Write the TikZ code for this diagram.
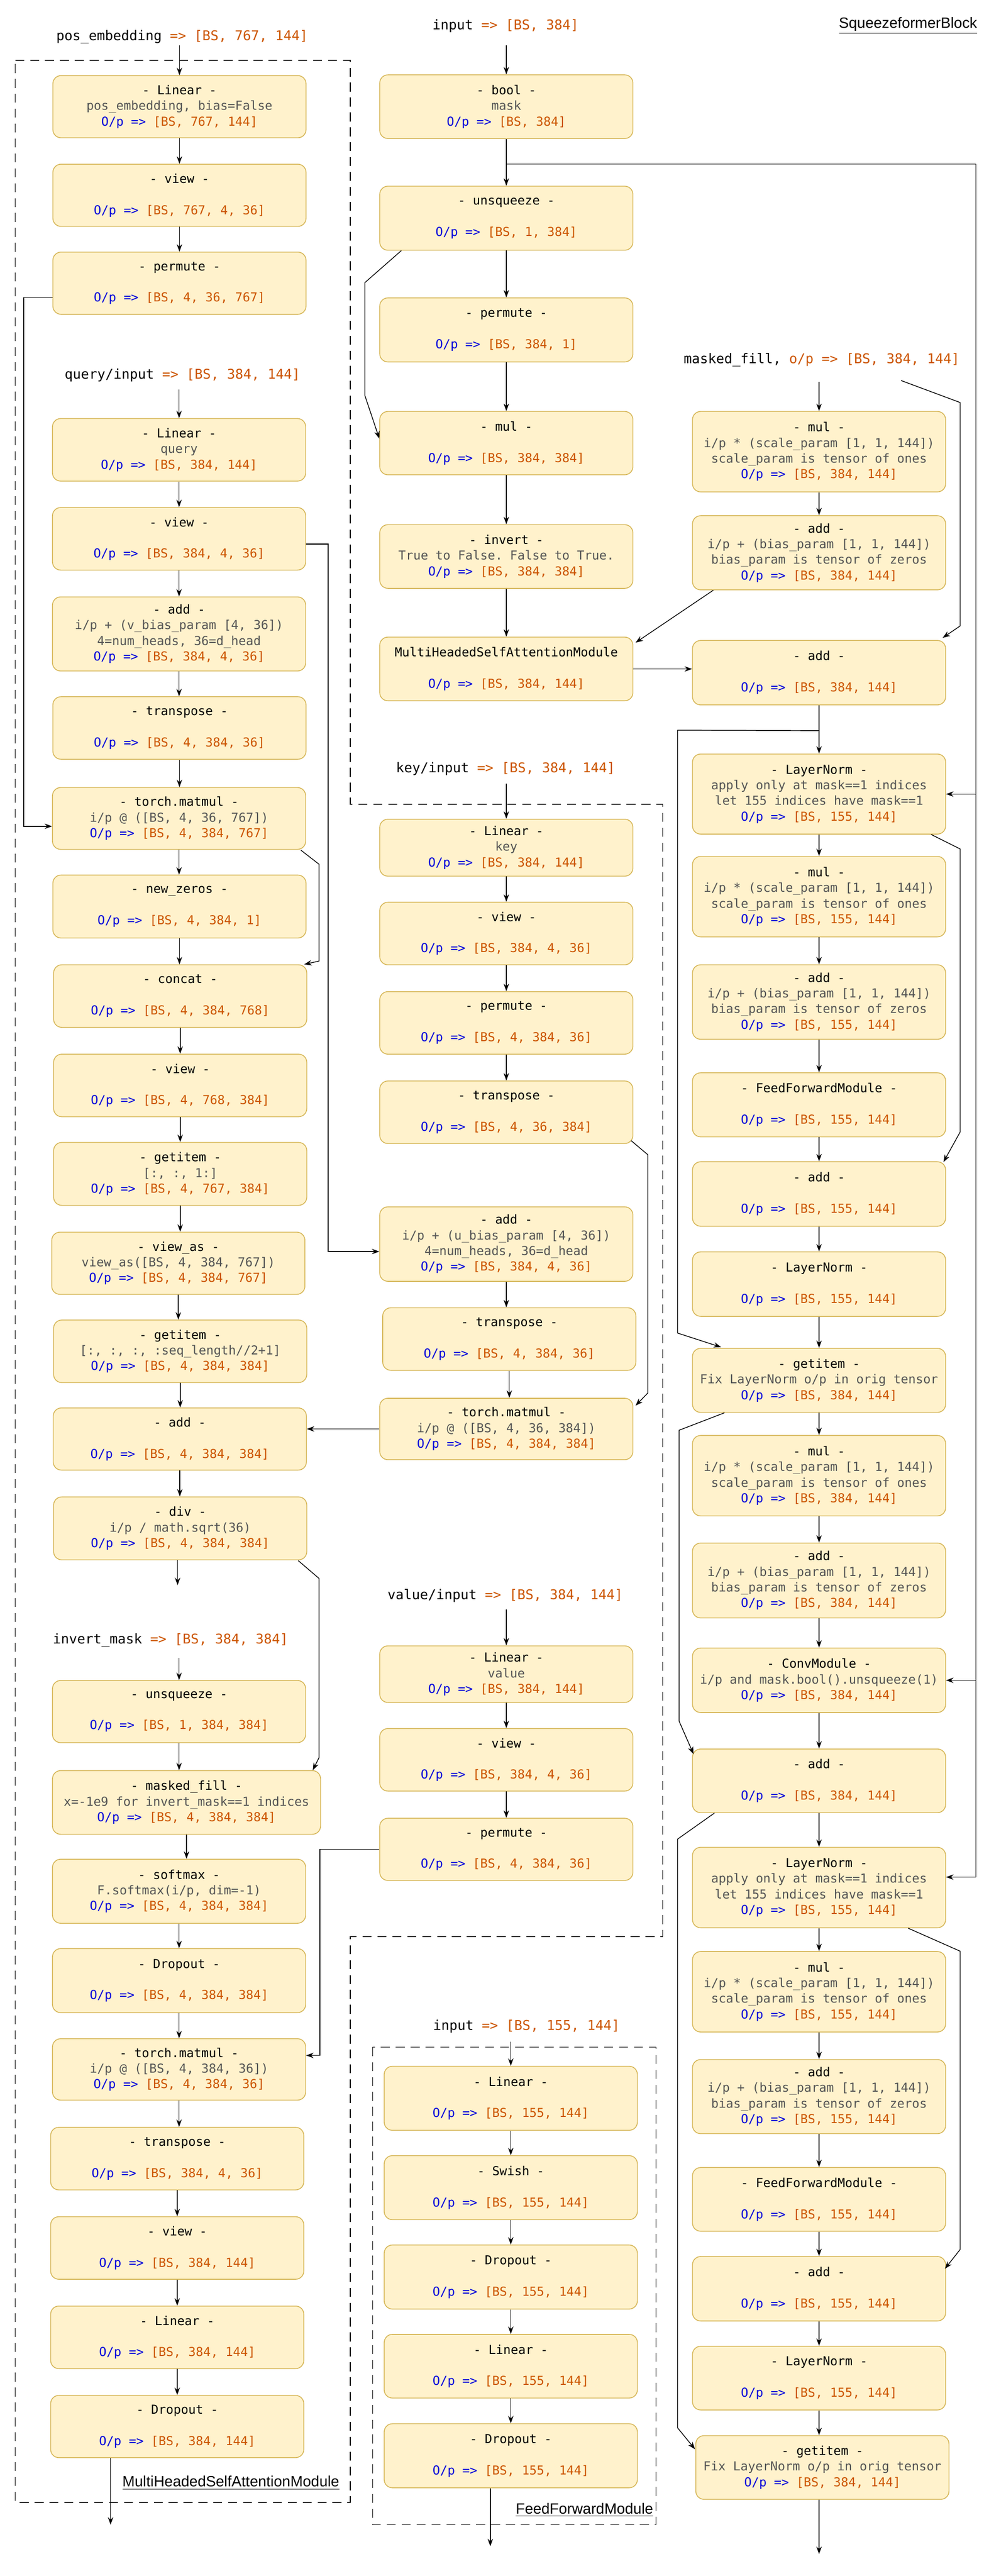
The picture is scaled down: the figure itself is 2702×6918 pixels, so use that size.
\documentclass[tikz,border=0pt]{standalone}
\usepackage{fontspec}
\setmainfont{Liberation Sans}
\setmonofont{DejaVu Sans Mono}
\usetikzlibrary{arrows.meta,calc}
\definecolor{boxfill}{RGB}{255,242,204}
\definecolor{boxline}{RGB}{214,182,86}
\definecolor{shp}{RGB}{204,85,0}
\definecolor{opblue}{RGB}{0,0,220}
\definecolor{descgray}{RGB}{85,85,85}
\newcommand{\opl}[1]{{\color{opblue}O/p =>} {\color{shp}#1}}
\newcommand{\dsc}[1]{{\color{descgray}#1}}
\newcommand{\lbl}[2]{#1 {\color{shp}=> #2}}
\newcommand{\bxfont}{\fontsize{8.3pt}{10.5pt}\selectfont\ttfamily}
\newcommand{\lbfont}{\fontsize{9.05pt}{11pt}\selectfont\ttfamily}
\newcommand{\mulT}[1]{- mul -\\\dsc{i/p * (scale\_param [1, 1, 144])}\\\dsc{scale\_param is tensor of ones}\\\opl{[BS, #1, 144]}}
\newcommand{\addT}[1]{- add -\\\dsc{i/p + (bias\_param [1, 1, 144])}\\\dsc{bias\_param is tensor of zeros}\\\opl{[BS, #1, 144]}}
\newcommand{\mkbox}[6][680]{\node[box,minimum width={#1*0.25pt},minimum height={(#5-#4)*0.25pt}] (#2) at (#3,{(#4+#5)/2}) {#6};}
\tikzset{
  box/.style={draw=boxline, fill=boxfill, rounded corners=5.5pt, line width=0.55pt, inner sep=0pt, align=center, font=\bxfont},
  lab/.style={font=\lbfont, inner sep=1pt},
  ttl/.style={font=\fontsize{10pt}{12pt}\selectfont, inner sep=0pt},
  arr/.style={-{Stealth[length=5pt,width=3.6pt]}, line width=0.5pt},
  dashbox/.style={dash pattern=on 6pt off 4pt, line width=0.5pt}
}
\begin{document}
\begin{tikzpicture}[x=0.25pt,y=-0.25pt]
\fill[white] (0,0) rectangle (2702,6918);
\useasboundingbox (0,0) rectangle (2702,6918);

% dashed module outlines
\draw[dashbox] (41,162) -- (941,162) -- (941,2160) -- (1780,2160) -- (1780,5201) -- (941,5201) -- (941,6720) -- (41,6720) -- cycle;
\draw[dashbox] (1001,5498) rectangle (1762,6780);

% titles
\node[ttl] (tsq) at (2439,69) {\underline{SqueezeformerBlock}};
\node[ttl] (tmh) at (620,6668) {\underline{MultiHeadedSelfAttentionModule}};
\node[ttl] (tff) at (1570,6741) {\underline{FeedForwardModule}};

% labels
\node[lab] (lpos) at (489,99) {\lbl{pos\_embedding}{[BS, 767, 144]}};
\node[lab] (lq) at (490,1007) {\lbl{query/input}{[BS, 384, 144]}};
\node[lab] (linv) at (458,4405) {\lbl{invert\_mask}{[BS, 384, 384]}};
\node[lab] (lin) at (1358,69) {\lbl{input}{[BS, 384]}};
\node[lab] (lkey) at (1358,2065) {\lbl{key/input}{[BS, 384, 144]}};
\node[lab] (lval) at (1357,4285) {\lbl{value/input}{[BS, 384, 144]}};
\node[lab] (lffn) at (1414,5442) {\lbl{input}{[BS, 155, 144]}};
\node[lab] (lmf) at (2207,967) {masked\_fill, {\color{shp}o/p => [BS, 384, 144]}};

% left column
\mkbox{b1}{482}{203}{370}{- Linear -\\\dsc{pos\_embedding, bias=False}\\\opl{[BS, 767, 144]}}
\mkbox{b2}{482}{441}{608}{- view -\\~\\\opl{[BS, 767, 4, 36]}}
\mkbox{b3}{482}{677}{844}{- permute -\\~\\\opl{[BS, 4, 36, 767]}}
\mkbox{b4}{481}{1124}{1292}{- Linear -\\\dsc{query}\\\opl{[BS, 384, 144]}}
\mkbox{b5}{481}{1363}{1531}{- view -\\~\\\opl{[BS, 384, 4, 36]}}
\mkbox{b6}{481}{1603}{1802}{- add -\\\dsc{i/p + (v\_bias\_param [4, 36])}\\\dsc{4=num\_heads, 36=d\_head}\\\opl{[BS, 384, 4, 36]}}
\mkbox{b7}{482}{1871}{2039}{- transpose -\\~\\\opl{[BS, 4, 384, 36]}}
\mkbox{b8}{481}{2115}{2281}{- torch.matmul -\\\dsc{i/p @ ([BS, 4, 36, 767])}\\\opl{[BS, 4, 384, 767]}}
\mkbox{b9}{482}{2350}{2519}{- new\_zeros -\\~\\\opl{[BS, 4, 384, 1]}}
\mkbox{b10}{484}{2591}{2759}{- concat -\\~\\\opl{[BS, 4, 384, 768]}}
\mkbox{b11}{484}{2831}{2999}{- view -\\~\\\opl{[BS, 4, 768, 384]}}
\mkbox{b12}{484}{3068}{3237}{- getitem -\\\dsc{[:, :, 1:]}\\\opl{[BS, 4, 767, 384]}}
\mkbox{b13}{479}{3309}{3476}{- view\_as -\\\dsc{view\_as([BS, 4, 384, 767])}\\\opl{[BS, 4, 384, 767]}}
\mkbox{b14}{484}{3545}{3713}{- getitem -\\\dsc{[:, :, :, :seq\_length//2+1]}\\\opl{[BS, 4, 384, 384]}}
\mkbox{b15}{483}{3781}{3948}{- add -\\~\\\opl{[BS, 4, 384, 384]}}
\mkbox{b16}{484}{4020}{4189}{- div -\\\dsc{i/p / math.sqrt(36)}\\\opl{[BS, 4, 384, 384]}}
\mkbox{b17}{481}{4513}{4680}{- unsqueeze -\\~\\\opl{[BS, 1, 384, 384]}}
\mkbox[720]{b18}{501}{4755}{4926}{- masked\_fill -\\\dsc{x=-1e9 for invert\_mask==1 indices}\\\opl{[BS, 4, 384, 384]}}
\mkbox{b19}{481}{4993}{5165}{- softmax -\\\dsc{F.softmax(i/p, dim=-1)}\\\opl{[BS, 4, 384, 384]}}
\mkbox{b20}{481}{5233}{5405}{- Dropout -\\~\\\opl{[BS, 4, 384, 384]}}
\mkbox{b21}{481}{5475}{5640}{- torch.matmul -\\\dsc{i/p @ ([BS, 4, 384, 36])}\\\opl{[BS, 4, 384, 36]}}
\mkbox{b22}{476}{5713}{5881}{- transpose -\\~\\\opl{[BS, 384, 4, 36]}}
\mkbox{b23}{476}{5953}{6121}{- view -\\~\\\opl{[BS, 384, 144]}}
\mkbox{b24}{476}{6193}{6361}{- Linear -\\~\\\opl{[BS, 384, 144]}}
\mkbox{b25}{476}{6433}{6600}{- Dropout -\\~\\\opl{[BS, 384, 144]}}

% middle column
\mkbox{mA}{1360}{201}{372}{- bool -\\\dsc{mask}\\\opl{[BS, 384]}}
\mkbox{mB}{1360}{500}{672}{- unsqueeze -\\~\\\opl{[BS, 1, 384]}}
\mkbox{mC}{1360}{800}{972}{- permute -\\~\\\opl{[BS, 384, 1]}}
\mkbox{mD}{1360}{1105}{1275}{- mul -\\~\\\opl{[BS, 384, 384]}}
\mkbox{mE}{1360}{1409}{1580}{- invert -\\\dsc{True to False. False to True.}\\\opl{[BS, 384, 384]}}
\mkbox{mF}{1360}{1711}{1882}{MultiHeadedSelfAttentionModule\\~\\\opl{[BS, 384, 144]}}
\mkbox{mG}{1360}{2200}{2353}{- Linear -\\\dsc{key}\\\opl{[BS, 384, 144]}}
\mkbox{mH}{1360}{2423}{2591}{- view -\\~\\\opl{[BS, 384, 4, 36]}}
\mkbox{mI}{1360}{2663}{2831}{- permute -\\~\\\opl{[BS, 4, 384, 36]}}
\mkbox{mJ}{1360}{2903}{3071}{- transpose -\\~\\\opl{[BS, 4, 36, 384]}}
\mkbox{mK}{1360}{3241}{3441}{- add -\\\dsc{i/p + (u\_bias\_param [4, 36])}\\\dsc{4=num\_heads, 36=d\_head}\\\opl{[BS, 384, 4, 36]}}
\mkbox{mL}{1368}{3512}{3680}{- transpose -\\~\\\opl{[BS, 4, 384, 36]}}
\mkbox{mM}{1360}{3755}{3920}{- torch.matmul -\\\dsc{i/p @ ([BS, 4, 36, 384])}\\\opl{[BS, 4, 384, 384]}}
\mkbox{mN}{1360}{4420}{4572}{- Linear -\\\dsc{value}\\\opl{[BS, 384, 144]}}
\mkbox{mO}{1360}{4642}{4810}{- view -\\~\\\opl{[BS, 384, 4, 36]}}
\mkbox{mP}{1360}{4883}{5050}{- permute -\\~\\\opl{[BS, 4, 384, 36]}}

% feed forward module
\mkbox{fQ}{1372}{5549}{5721}{- Linear -\\~\\\opl{[BS, 155, 144]}}
\mkbox{fR}{1372}{5789}{5961}{- Swish -\\~\\\opl{[BS, 155, 144]}}
\mkbox{fS}{1372}{6029}{6201}{- Dropout -\\~\\\opl{[BS, 155, 144]}}
\mkbox{fT}{1372}{6269}{6440}{- Linear -\\~\\\opl{[BS, 155, 144]}}
\mkbox{fU}{1372}{6509}{6681}{- Dropout -\\~\\\opl{[BS, 155, 144]}}

% right column
\mkbox{R1}{2200}{1105}{1321}{\mulT{384}}
\mkbox{R2}{2200}{1385}{1584}{\addT{384}}
\mkbox{R3}{2200}{1720}{1893}{- add -\\~\\\opl{[BS, 384, 144]}}
\mkbox{R4}{2200}{2025}{2240}{- LayerNorm -\\\dsc{apply only at mask==1 indices}\\\dsc{let 155 indices have mask==1}\\\opl{[BS, 155, 144]}}
\mkbox{R5}{2200}{2300}{2516}{\mulT{155}}
\mkbox{R6}{2200}{2591}{2791}{\addT{155}}
\mkbox{R7}{2200}{2881}{3053}{- FeedForwardModule -\\~\\\opl{[BS, 155, 144]}}
\mkbox{R8}{2200}{3120}{3293}{- add -\\~\\\opl{[BS, 155, 144]}}
\mkbox{R9}{2200}{3362}{3535}{- LayerNorm -\\~\\\opl{[BS, 155, 144]}}
\mkbox{R10}{2200}{3621}{3793}{- getitem -\\\dsc{Fix LayerNorm o/p in orig tensor}\\\opl{[BS, 384, 144]}}
\mkbox{R11}{2200}{3855}{4071}{\mulT{384}}
\mkbox{R12}{2200}{4144}{4345}{\addT{384}}
\mkbox{R13}{2200}{4426}{4599}{- ConvModule -\\\dsc{i/p and mask.bool().unsqueeze(1)}\\\opl{[BS, 384, 144]}}
\mkbox{R14}{2200}{4697}{4868}{- add -\\~\\\opl{[BS, 384, 144]}}
\mkbox{R15}{2200}{4961}{5177}{- LayerNorm -\\\dsc{apply only at mask==1 indices}\\\dsc{let 155 indices have mask==1}\\\opl{[BS, 155, 144]}}
\mkbox{R16}{2200}{5241}{5457}{\mulT{155}}
\mkbox{R17}{2200}{5531}{5730}{\addT{155}}
\mkbox{R18}{2200}{5821}{5992}{- FeedForwardModule -\\~\\\opl{[BS, 155, 144]}}
\mkbox{R19}{2200}{6060}{6233}{- add -\\~\\\opl{[BS, 155, 144]}}
\mkbox{R20}{2200}{6301}{6472}{- LayerNorm -\\~\\\opl{[BS, 155, 144]}}
\mkbox{R21}{2209}{6541}{6712}{- getitem -\\\dsc{Fix LayerNorm o/p in orig tensor}\\\opl{[BS, 384, 144]}}

% free ends
\coordinate (d16) at (477,4257);
\coordinate (o1) at (297,6780);
\coordinate (o2) at (1317,6838);
\coordinate (o3) at (2200,6859);
\coordinate (mk2) at (2621,441);

% label arrows
\draw[arr] (lpos.south -| b1.north) -- (b1.north);
\draw[arr, shorten <=4.25pt] (lq.south -| b4.north) -- (b4.north);
\draw[arr, shorten <=6.25pt] (linv.south -| b17.north) -- (b17.north);
\draw[arr, shorten <=7.5pt] (lin.south -| mA.north) -- (mA.north);
\draw[arr, shorten <=4.25pt] (lkey.south -| mG.north) -- (mG.north);
\draw[arr, shorten <=3.75pt] (lval.south -| mN.north) -- (mN.north);
\draw[arr, shorten <=4.75pt] (lffn.south -| fQ.north) -- (fQ.north);
\draw[arr, shorten <=9pt] (lmf.south -| R1.north) -- (R1.north);

% vertical chains
\foreach \a/\b in {b1/b2,b2/b3,b4/b5,b5/b6,b6/b7,b7/b8,b8/b9,b9/b10,b10/b11,b11/b12,b12/b13,b13/b14,b14/b15,b15/b16,
  b17/b18,b18/b19,b19/b20,b20/b21,b21/b22,b22/b23,b23/b24,b24/b25,
  mA/mB,mB/mC,mC/mD,mD/mE,mE/mF,mG/mH,mH/mI,mI/mJ,mK/mL,mL/mM,mN/mO,mO/mP,
  fQ/fR,fR/fS,fS/fT,fT/fU,
  R1/R2,R3/R4,R4/R5,R5/R6,R6/R7,R7/R8,R8/R9,R9/R10,R10/R11,R11/R12,R12/R13,R13/R14,R14/R15,
  R15/R16,R16/R17,R17/R18,R18/R19,R19/R20,R20/R21}
  \draw[arr] (\a.south) -- (\a.south |- \b.north);

% outputs
\draw[arr] (b16.south -| d16) -- (d16);
\draw[arr] (b25.south -| o1) -- (o1);
\draw[arr] (fU.south -| o2) -- (o2);
\draw[arr] (R21.south -| o3) -- (o3);

% left column cross connectors
\draw[arr] ([yshift=-9.6pt]b3.west) -- ++(-77,0) |- ([yshift=-5.25pt]b8.west);
\draw[arr] ([yshift=-3.5pt]b5.east) -- ++(59,0) |- ([yshift=-5pt]mK.west);
\draw[arr] ($(b8.south east)+(-14,1)$) -- (857,2321) -- (857,2581) -- ($(b10.north east)+(-8,0)$);
\draw[arr] (mM.west) -- (mM.west -| b15.east);
\draw[arr] ($(b16.south east)+(-24,1)$) -- (857,4239) -- (857,4720) -- ($(b18.north east)+(-22,0)$);
\draw[arr] (mP.west) -- ++(-160,0) |- ([yshift=9.4pt]b21.east);

% middle column connectors
\draw[arr] (mA.south |- mk2) -- (mk2) |- ([yshift=7pt]R15.east);
\draw[arr] (mk2 |- R4.east) -- (R4.east);
\draw[arr] (mk2 |- R13.east) -- (R13.east);
\draw[arr] ($(mB.south west)+(59,0)$) -- (980,759) -- (980,1062) -- ([yshift=3pt]mD.west);
\draw[arr] ($(mJ.south east)+(-6,-9)$) -- (1740,3101) -- (1740,3741) -- ($(mM.north east)+(6,21)$);
\draw[arr] ($(R2.south west)+(57,0)$) -- ($(mF.north east)+(6,16)$);
\draw[arr] (mF.east) -- (mF.east -| R3.west);

% right column residual connectors
\draw[arr] ($(lmf.south east)+(-162,32)$) -- (2579,1081) -- (2579,1681) -- ($(R3.north east)+(-9,-6)$);
\draw[arr] ($(R3.south)+(0,68)$) -- (1820,1961) -- (1820,3580) -- ($(R10.north west)+(78,-2)$);
\draw[arr] ($(R4.south east)+(-40,0)$) -- (2579,2280) -- (2579,3040) -- ($(R8.north east)+(-7,2)$);
\draw[arr] ($(R10.south west)+(87,0)$) -- (1824,3841) -- (1824,4622) -- ($(R14.north west)+(4,15)$);
\draw[arr] ($(R14.south west)+(60,0)$) -- (1820,4939) -- (1820,6520) -- ($(R21.west)+(-1,-49)$);
\draw[arr] ($(R15.south east)+(-102,0)$) -- (2579,5240) -- (2579,6041) -- ($(R19.north east)+(-3,34)$);
\end{tikzpicture}
\end{document}
